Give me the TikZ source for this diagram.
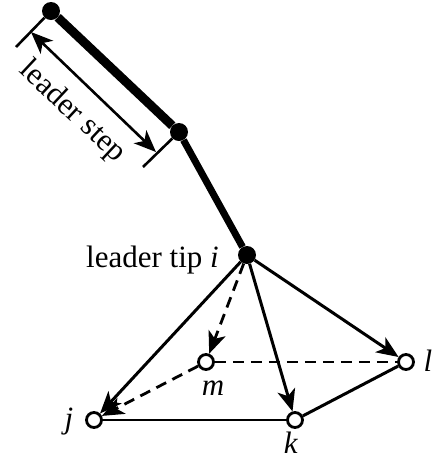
\documentclass[tikz,border=0pt]{standalone}
\usepackage{fontspec}
\setmainfont{Liberation Serif}
\usetikzlibrary{arrows.meta}
\tikzset{
  x=1pt,y=-1pt,
  solid node/.style={circle,fill=black,inner sep=0pt,minimum size=18pt},
  open node/.style={circle,draw=black,fill=white,line width=2.8pt,inner sep=0pt,minimum size=15pt},
  lbl/.style={font=\fontsize{31}{33}\selectfont,inner sep=0pt},
  tip/.style={-{Stealth[length=22pt,width=18pt,inset=6pt]}},
  edge line/.style={line width=3pt},
  thin edge/.style={line width=2.6pt},
  dash line/.style={line width=2.8pt,dash pattern=on 11pt off 7pt},
  leader/.style={line width=9pt},
}
\begin{document}
\begin{tikzpicture}
\useasboundingbox (0,0) rectangle (434,459);
\coordinate (t1) at (16,47);
\coordinate (t2) at (143,167);
\coordinate (d1) at (31,32);
\coordinate (d2) at (156,152);
\node[solid node] (a) at (51,11) {};
\node[solid node] (b) at (179,132) {};
\node[solid node] (i) at (247,255) {};
\node[open node] (j) at (94,420) {};
\node[open node] (m) at (206,362) {};
\node[open node] (k) at (295,420) {};
\node[open node] (l) at (406,362) {};
\draw[leader] (a) -- (b);
\draw[line width=7pt] (b) -- (i);
\draw[thin edge] (a) -- (t1);
\draw[thin edge] (b) -- (t2);
\draw[thin edge,{Stealth[length=22pt,width=18pt,inset=6pt]}-{Stealth[length=22pt,width=18pt,inset=6pt]}] (d1) -- (d2);
\draw[dash line] (m) -- (l);
\draw[dash line,tip] (m) -- (j);
\draw[dash line,tip] (i) -- (m);
\draw[thin edge] (j) -- (k);
\draw[edge line] (k) -- (l);
\draw[edge line,tip] (i) -- (j);
\draw[edge line,tip] (i) -- (k);
\draw[edge line,tip] (i) -- (l);
\node[lbl,rotate=-43] (s) at (72,112) {leader step};
\node[lbl,anchor=base east] (ti) at (219,267) {leader tip \textit{i}};
\node[lbl] (lj) at (69,422) {\textit{j}};
\node[lbl] (lm) at (213,388) {\textit{m}};
\node[lbl] (lk) at (291,443) {\textit{k}};
\node[lbl] (ll) at (428,361) {\textit{l}};
\end{tikzpicture}
\end{document}
